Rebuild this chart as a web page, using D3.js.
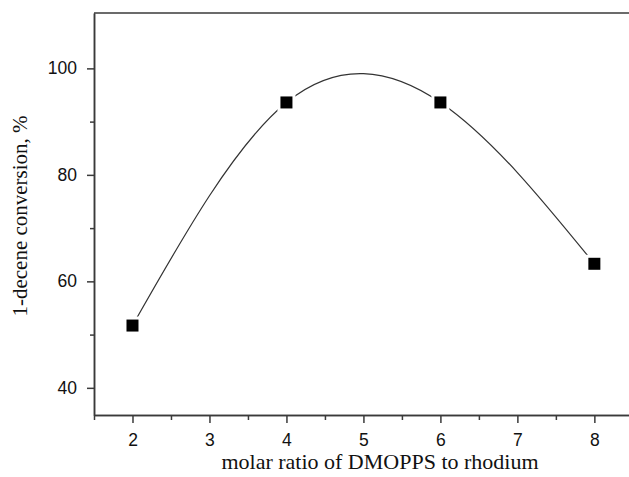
<!DOCTYPE html>
<html lang="en">
<head>
    <meta charset="UTF-8">
    <title>1-decene conversion</title>
    <script src="https://d3js.org/d3.v7.min.js"></script>
    <style>
        body { margin: 0; background: #fff; }
    </style>
</head>
<body>
    <script>
    var ratios = [2, 4, 6, 8];
    var conversion = [51.7, 93.6, 93.6, 63.3];
    var xTicks = [2, 3, 4, 5, 6, 7, 8];
    var xMinor = [1.5, 2.5, 3.5, 4.5, 5.5, 6.5, 7.5];
    var yTicks = [40, 60, 80, 100];
    var yMinor = [50, 70, 90];

    var width = 629;
    var height = 477;

    var data = ratios.map(function(r, i) { return { x: r, y: conversion[i] }; });

//svg設定
    var svg = d3.select("body").append("svg").attr("width", width).attr("height", height);

    var x = d3.scaleLinear().domain([1.5, 8.45]).range([94, 629]);
    var y = d3.scaleLinear().domain([34.9, 110.4]).range([415, 13]);

//axes
    svg.append("g")
        .attr("transform", "translate(0," + y(34.9) + ")")
        .call(d3.axisBottom(x).tickValues(xTicks).tickFormat(d3.format("d"))
            .tickSize(8).tickSizeOuter(0).tickPadding(11));
    svg.append("g")
        .attr("transform", "translate(0," + y(34.9) + ")")
        .call(d3.axisBottom(x).tickValues(xMinor).tickSize(5).tickSizeOuter(0).tickFormat(""));

    svg.append("g")
        .attr("transform", "translate(" + x(1.5) + ",0)")
        .call(d3.axisLeft(y).tickValues(yTicks).tickFormat(d3.format("d"))
            .tickSize(7).tickSizeOuter(0).tickPadding(10));
    svg.append("g")
        .attr("transform", "translate(" + x(1.5) + ",0)")
        .call(d3.axisLeft(y).tickValues(yMinor).tickSize(4).tickSizeOuter(0).tickFormat(""));

    svg.selectAll(".domain, .tick line")
        .attr("stroke", "#3a3a3a")
        .attr("stroke-width", 1.5);
    svg.selectAll(".tick text")
        .attr("font-family", "'Liberation Sans', Arial, sans-serif")
        .attr("font-size", "17.5px")
        .attr("fill", "#111");

// top frame line
    svg.append("line")
        .attr("x1", x(1.5)).attr("x2", width)
        .attr("y1", y(110.4)).attr("y2", y(110.4))
        .attr("stroke", "#3a3a3a")
        .attr("stroke-width", 1.5);

//spline
    var line = d3.line()
        .x(function(d) { return x(d.x); })
        .y(function(d) { return y(d.y); })
        .curve(d3.curveNatural);

    svg.append("path")
        .datum(data)
        .attr("d", line)
        .attr("fill", "none")
        .attr("stroke", "#333")
        .attr("stroke-width", 1.2);

//markers (white halo makes the gap in the line)
    var size = 12;
    svg.selectAll(".halo")
        .data(data)
        .enter()
        .append("rect")
        .attr("class", "halo")
        .attr("x", function(d) { return x(d.x) - size / 2 - 3; })
        .attr("y", function(d) { return y(d.y) - size / 2 - 3; })
        .attr("width", size + 6)
        .attr("height", size + 6)
        .attr("fill", "#fff");

    svg.selectAll(".marker")
        .data(data)
        .enter()
        .append("rect")
        .attr("class", "marker")
        .attr("x", function(d) { return x(d.x) - size / 2; })
        .attr("y", function(d) { return y(d.y) - size / 2; })
        .attr("width", size)
        .attr("height", size)
        .attr("fill", "#000");

//titles
    svg.append("text")
        .attr("x", 380)
        .attr("y", 469)
        .attr("text-anchor", "middle")
        .attr("font-family", "'Liberation Serif', 'Times New Roman', serif")
        .attr("font-size", "22px")
        .attr("fill", "#111")
        .text("molar ratio of DMOPPS to rhodium");

    svg.append("text")
        .attr("transform", "translate(27,216) rotate(-90)")
        .attr("text-anchor", "middle")
        .attr("font-family", "'Liberation Serif', 'Times New Roman', serif")
        .attr("font-size", "21px")
        .attr("fill", "#111")
        .text("1-decene conversion, %");
    </script>
</body>
</html>
